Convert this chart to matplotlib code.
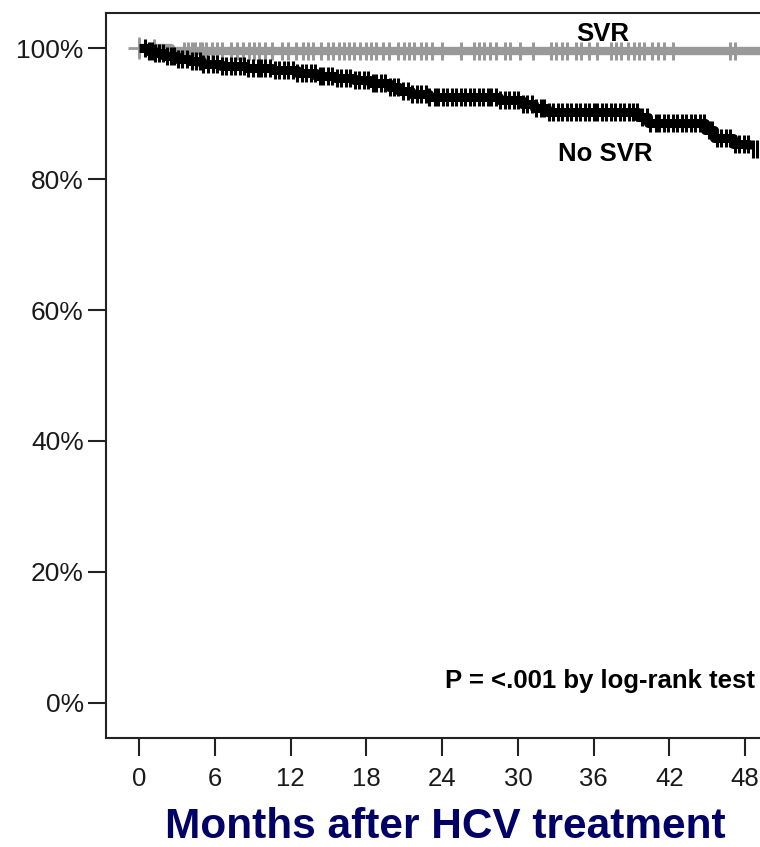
import numpy as np
import matplotlib
matplotlib.use("Agg")
import matplotlib.pyplot as plt

plt.rcParams['font.family'] = ['Liberation Sans', 'DejaVu Sans']

# No SVR step curve (months, % event-free)
nosvr_t = [0, 0.7, 1.3, 2.0, 3.0, 4.0, 5.0, 6.5, 8.5, 10.5, 12.5, 14.0, 15.5, 17.0,
           18.3, 19.8, 20.6, 21.5, 23.0, 28.5, 30.3, 31.3, 32.3, 39.5, 40.3, 44.8,
           45.5, 47.0, 48.3]
nosvr_s = [100, 99.6, 99.2, 98.8, 98.4, 98.0, 97.6, 97.2, 96.9, 96.6, 96.2, 95.8,
           95.5, 95.1, 94.7, 94.0, 93.5, 93.0, 92.5, 92.0, 91.5, 90.8, 90.2, 89.5,
           88.6, 87.5, 86.2, 85.4, 84.6]
nosvr_cens = [0.5, 0.8, 1.0, 1.3, 1.6, 1.9, 2.2, 2.5, 2.8, 3.1, 3.4, 3.8, 4.2, 4.5,
              4.8, 5.1, 5.5, 5.9, 6.2, 6.6, 6.9, 7.3, 7.6, 8.0, 8.3, 8.6, 9.0, 9.4,
              9.7, 10.0, 10.4, 10.8, 11.1, 11.5, 11.8, 12.2, 12.5, 12.9, 13.2, 13.6,
              13.9, 14.3, 14.6, 15.0, 15.3, 15.7, 16.0, 16.4, 16.7, 17.1, 17.4, 17.8,
              18.1, 18.5, 18.8, 19.2, 19.5, 19.9, 20.2, 20.5, 20.9, 21.3, 21.6, 22.0,
              22.3, 22.7, 23.0, 23.4, 23.7, 24.1, 24.4, 24.8, 25.1, 25.5, 25.8, 26.2,
              26.5, 26.9, 27.2, 27.6, 27.9, 28.3, 28.6, 29.0, 29.3, 29.7, 30.0, 30.4,
              30.7, 31.1, 31.4, 31.8, 32.1, 32.5, 32.8, 33.2, 33.5, 33.9, 34.2, 34.6,
              34.9, 35.3, 35.6, 36.0, 36.3, 36.7, 37.0, 37.4, 37.7, 38.1, 38.4, 38.8,
              39.1, 39.4, 39.8, 40.2, 40.5, 40.9, 41.2, 41.6, 41.9, 42.3, 42.6, 43.0,
              43.3, 43.7, 44.0, 44.4, 44.7, 45.1, 45.4, 45.8, 46.1, 46.5, 46.8, 47.2,
              47.5, 47.9, 48.2, 48.6, 48.9]

# SVR step curve
svr_t = [0, 2.5, 49.5]
svr_s = [100, 99.5, 99.5]
svr_cens = [0.0, 1.2, 3.6, 3.9, 4.2, 4.4, 4.8, 5.0, 5.3, 5.8, 6.2, 6.6, 7.3, 7.8, 8.2,
            8.7, 9.1, 9.5, 10.0, 10.5, 11.3, 11.8, 12.4, 13.0, 13.4, 13.8, 14.4, 15.0,
            15.4, 15.8, 16.2, 16.6, 17.0, 17.5, 18.0, 18.4, 18.8, 19.3, 19.8, 20.5,
            21.0, 21.4, 21.8, 22.3, 22.7, 23.2, 24.0, 25.5, 26.5, 26.9, 27.3, 27.8,
            28.3, 29.0, 29.4, 30.2, 31.2, 32.6, 33.0, 33.5, 33.9, 34.6, 35.0, 35.6,
            36.3, 37.4, 37.8, 38.2, 38.7, 39.2, 39.6, 40.0, 40.6, 41.1, 41.6, 42.3,
            46.8, 47.2]

xticks = [0, 6, 12, 18, 24, 30, 36, 42, 48]
yticks = [0, 20, 40, 60, 80, 100]
ylabels = ['0%', '20%', '40%', '60%', '80%', '100%']


def step_at(t_list, s_list, x):
    idx = np.searchsorted(np.array(t_list), np.array(x), side='right') - 1
    return np.array(s_list)[np.clip(idx, 0, len(s_list) - 1)]


fig = plt.figure(figsize=(7.6, 8.47), dpi=100)
ax = fig.add_axes([106 / 760, (847 - 738) / 847, 1 - 106 / 760, (738 - 13) / 847])

gray = '#999999'
# SVR
ax.step(svr_t, svr_s, where='post', color=gray, lw=6, solid_capstyle='butt', zorder=2)
ax.plot(svr_cens, step_at(svr_t, svr_s, svr_cens), ls='none', marker='|',
        ms=13, mew=2.2, color=gray, zorder=2)
ax.plot([0], [100], ls='none', marker='+', ms=16, mew=2.0, color=gray, zorder=2)

# No SVR
ax.step(nosvr_t, nosvr_s, where='post', color='black', lw=6.5, solid_capstyle='butt', zorder=3)
ax.plot(nosvr_cens, step_at(nosvr_t, nosvr_s, nosvr_cens), ls='none', marker='|',
        ms=13, mew=2.2, color='black', zorder=3)

ax.set_xlim(-2.61, 49.17)
ax.set_ylim(-5.36, 105.36)

ax.set_xticks(xticks)
ax.set_xticklabels([str(x) for x in xticks])
ax.set_yticks(yticks)
ax.set_yticklabels(ylabels)

for side in ['left', 'bottom', 'top']:
    ax.spines[side].set_linewidth(1.5)
    ax.spines[side].set_color('#222222')
ax.spines['right'].set_visible(False)

ax.tick_params(axis='x', direction='out', length=13, width=1.5, pad=8,
               labelsize=18.5, colors='#222222', labelcolor='#1a1a1a')
ax.tick_params(axis='y', direction='out', length=13, width=1.5, pad=3,
               labelsize=19, colors='#222222', labelcolor='#1a1a1a')

ax.text(36.7, 102.2, 'SVR', fontsize=18.5, fontweight='bold', ha='center', va='center')
ax.text(36.9, 83.9, 'No SVR', fontsize=18.5, fontweight='bold', ha='center', va='center')
ax.text(48.8, 3.3, 'P = <.001 by log-rank test', fontsize=18.5, fontweight='bold',
        ha='right', va='center')

fig.text(445 / 760, 1 - 827 / 847, 'Months after HCV treatment', fontsize=30.5,
         fontweight='bold', color='#000066', ha='center', va='center')

fig.savefig('out.png', dpi=100)
